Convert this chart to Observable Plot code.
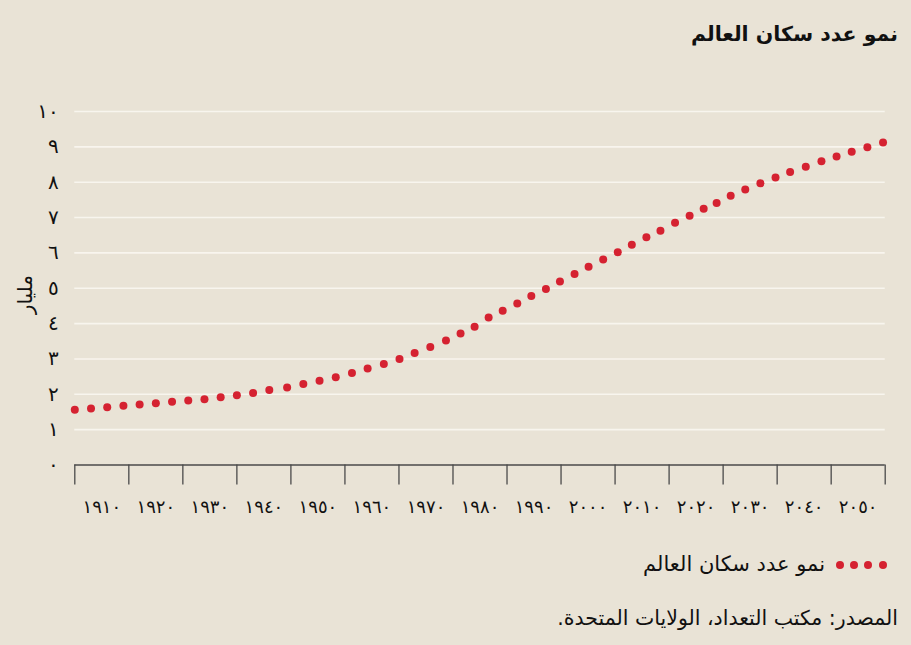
<!DOCTYPE html>
<html lang="ar">
<head>
<meta charset="utf-8">
<script src="https://cdn.jsdelivr.net/npm/d3@7"></script>
<script src="https://cdn.jsdelivr.net/npm/@observablehq/plot@0.6"></script>
<style>
  html, body { margin: 0; padding: 0; background: #e9e3d6; }
  #wrap { position: relative; width: 911px; height: 645px; overflow: hidden; background: #e9e3d6; font-family: "DejaVu Sans", sans-serif; color: #111; }
  .txt { position: absolute; direction: rtl; white-space: nowrap; line-height: 1; }
  #title { right: 13px; top: 24px; font-size: 20.5px; font-weight: bold; }
  #legend { right: 86px; top: 554px; font-size: 21px; }
  .ldot { position: absolute; width: 8px; height: 8px; border-radius: 50%; background: #d52231; top: 561px; }
  #caption { right: 13px; top: 608px; font-size: 20.5px; }
  #chart { position: absolute; left: 0; top: 0; }
</style>
</head>
<body>
<div id="wrap">
  <div id="chart"></div>
  <div class="txt" id="title">نمو عدد سكان العالم</div>
  <div class="ldot" style="left:836px"></div>
  <div class="ldot" style="left:850px"></div>
  <div class="ldot" style="left:864px"></div>
  <div class="ldot" style="left:879px"></div>
  <div class="txt" id="legend">نمو عدد سكان العالم</div>
  <div class="txt" id="caption">المصدر: مكتب التعداد، الولايات المتحدة.</div>
</div>
<script>
// Data
const years = [1905,1908,1911,1914,1917,1920,1923,1926,1929,1932,1935,1938,1941,
  1944.3,1947.3,1950.3,1953.3,1956.3,1959.2,1962.2,1965.1,1967.9,1970.8,1973.7,1976.4,1979.0,
  1981.6,1984.2,1986.9,1989.5,1992.2,1994.8,1997.5,2000.1,2002.8,2005.5,2008.1,2010.8,2013.4,
  2016.1,2018.8,2021.4,2023.8,2026.4,2029.1,2031.9,2034.7,2037.4,2040.3,2043.2,2046.0,2048.8,2051.7,2054.6];
const population = [1.56,1.60,1.635,1.675,1.71,1.75,1.79,1.825,1.86,1.92,1.975,2.04,2.12,
  2.19,2.29,2.38,2.48,2.60,2.73,2.86,3.00,3.17,3.34,3.52,3.72,3.91,
  4.17,4.36,4.57,4.78,4.98,5.19,5.40,5.61,5.81,6.02,6.23,6.44,6.63,
  6.85,7.05,7.25,7.41,7.62,7.79,7.97,8.13,8.29,8.44,8.59,8.73,8.86,8.99,9.12];
const xTickMarks = [1905,1915,1925,1935,1945,1955,1965,1975,1985,1995,2005,2015,2025,2035,2045,2055];
const xTickLabels = [1910,1920,1930,1940,1950,1960,1970,1980,1990,2000,2010,2020,2030,2040,2050];
const yTicks = [0,1,2,3,4,5,6,7,8,9,10];
const yLabel = "مليار";

const digits = "٠١٢٣٤٥٦٧٨٩";
const toArabic = n => String(n).replace(/[0-9]/g, d => digits[+d]);

const data = years.map((y, i) => ({year: y, value: population[i]}));

const chart = Plot.plot({
  width: 911,
  height: 530,
  marginTop: 111,
  marginBottom: 65.5,
  marginLeft: 74.3,
  marginRight: 26.3,
  style: {background: "transparent", fontFamily: "DejaVu Sans, sans-serif", color: "#111"},
  x: {domain: [1905, 2055], label: null},
  y: {domain: [0, 10], label: null},
  marks: [
    Plot.ruleY(yTicks.filter(d => d > 0), {stroke: "#f8f5ee", strokeWidth: 1.6}),
    Plot.axisX({ticks: xTickMarks, tickSize: 20, tickFormat: () => "", stroke: "#4a4a4a", strokeWidth: 1.3, strokeOpacity: 1, label: null}),
    Plot.axisX({ticks: xTickLabels, tickSize: 0, tickPadding: 35, tickFormat: toArabic, fontSize: 18, label: null}),
    Plot.axisY({ticks: yTicks, tickSize: 0, tickPadding: 16, tickFormat: toArabic, fontSize: 20, label: null}),
    Plot.ruleY([0], {stroke: "#4a4a4a", strokeWidth: 1.3}),
    Plot.dot(data, {x: "year", y: "value", r: 4, fill: "#d52231", stroke: null}),
    Plot.text([yLabel], {frameAnchor: "left", dx: -49, dy: 26, rotate: -90, fontSize: 20, fill: "#111"})
  ]
});
document.getElementById("chart").appendChild(chart);
</script>
</body>
</html>
